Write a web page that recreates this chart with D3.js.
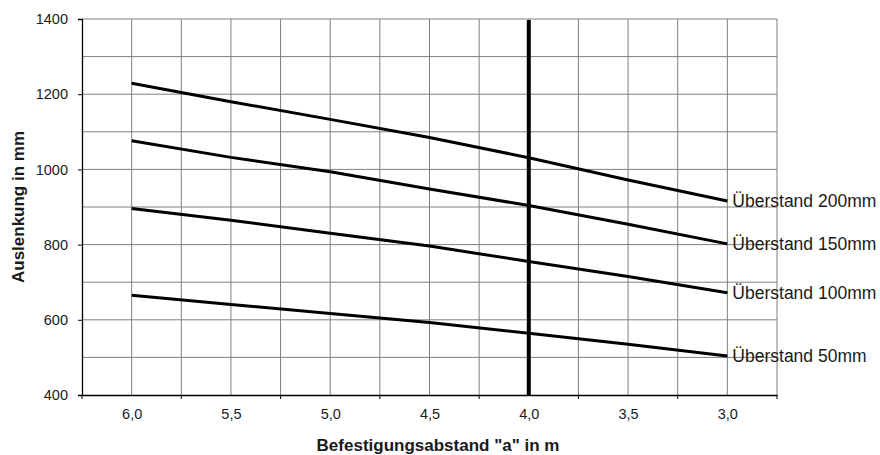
<!DOCTYPE html>
<html>
<head>
<meta charset="utf-8">
<script src="https://cdn.jsdelivr.net/npm/d3@7"></script>
<style>
  html, body { margin: 0; padding: 0; background: #fff; }
  svg { display: block; font-family: "Liberation Sans", Arial, sans-serif; }
</style>
</head>
<body>
<svg id="chart" width="880" height="455"></svg>
<script>
const categories = ["6,0", "5,5", "5,0", "4,5", "4,0", "3,5", "3,0"];
const seriesNames = ["Überstand 200mm", "Überstand 150mm", "Überstand 100mm", "Überstand 50mm"];
const s200 = [1229, 1180, 1133, 1085, 1031, 972, 916];
const s150 = [1076, 1032, 994, 948, 904, 854, 802];
const s100 = [896, 865, 830, 796, 755, 715, 672];
const s50  = [665, 641, 617, 593, 564, 535, 504];
const markerCategory = "4,0";
const yTicks = [400, 600, 800, 1000, 1200, 1400];
const yGrid = [500, 600, 700, 800, 900, 1000, 1100, 1200, 1300, 1400];
const yTitle = "Auslenkung in mm";
const xTitle = "Befestigungsabstand \"a\" in m";

const series = [s200, s150, s100, s50];

const svg = d3.select("#chart");
const m = { left: 82, right: 777, top: 19, bottom: 395 };

const x = d3.scalePoint().domain(categories).range([m.left, m.right]).padding(0.5);
const y = d3.scaleLinear().domain([400, 1400]).range([m.bottom, m.top]);
const step = x.step();

// vertical grid lines: category boundaries and centers
const vx = [];
categories.forEach(c => { vx.push(x(c) - step / 2); vx.push(x(c)); });
vx.push(m.right);
svg.append("g").selectAll("line").data(vx.slice(1)).join("line")
  .attr("x1", d => d).attr("x2", d => d)
  .attr("y1", m.top).attr("y2", m.bottom)
  .attr("stroke", "#808080").attr("stroke-width", 1);

// horizontal grid
svg.append("g").selectAll("line").data(yGrid).join("line")
  .attr("x1", m.left).attr("x2", m.right)
  .attr("y1", d => y(d)).attr("y2", d => y(d))
  .attr("stroke", "#808080").attr("stroke-width", 1);

// axes
const yAxis = d3.axisLeft(y).tickValues(yTicks).tickSize(4).tickFormat(d3.format("d"));
const gy = svg.append("g").attr("transform", `translate(${m.left},0)`).call(yAxis);
gy.select(".domain").attr("stroke", "#000").attr("stroke-width", 1.3);
gy.selectAll(".tick line").attr("stroke", "#000");
gy.selectAll(".tick text").attr("font-size", 14.5).attr("fill", "#1a1a1a")
  .attr("font-family", "Liberation Sans, Arial, sans-serif").attr("x", -14);

const gx = svg.append("g").attr("transform", `translate(0,${m.bottom})`)
  .call(d3.axisBottom(x).tickSize(0).tickPadding(14));
gx.select(".domain").attr("stroke", "#000").attr("stroke-width", 1.3);
gx.selectAll(".tick text").attr("font-size", 14.5).attr("fill", "#1a1a1a")
  .attr("font-family", "Liberation Sans, Arial, sans-serif");
// boundary tick marks
svg.append("g").selectAll("line").data(categories.map(c => x(c) - step / 2).concat([m.right])).join("line")
  .attr("x1", d => d).attr("x2", d => d)
  .attr("y1", m.bottom).attr("y2", m.bottom + 4)
  .attr("stroke", "#000").attr("stroke-width", 1);

// series lines
const line = d3.line().x((d, i) => x(categories[i])).y(d => y(d));
svg.append("g").selectAll("path").data(series).join("path")
  .attr("d", d => line(d))
  .attr("fill", "none").attr("stroke", "#000").attr("stroke-width", 3);

// marker vertical line
svg.append("line")
  .attr("x1", x(markerCategory)).attr("x2", x(markerCategory))
  .attr("y1", y(1400) + 1).attr("y2", y(400))
  .attr("stroke", "#000").attr("stroke-width", 4);

// series labels
svg.append("g").selectAll("text").data(series).join("text")
  .attr("x", x(categories[categories.length - 1]) + 5)
  .attr("y", d => y(d[d.length - 1]))
  .attr("dy", "0.35em")
  .attr("font-size", 17.5).attr("fill", "#1a1a1a")
  .text((d, i) => seriesNames[i]);

// titles
svg.append("text")
  .attr("x", 438).attr("y", 451)
  .attr("text-anchor", "middle").attr("font-weight", "bold").attr("font-size", 17)
  .attr("fill", "#1a1a1a").text(xTitle);
svg.append("text")
  .attr("transform", `translate(24,${(m.top + m.bottom) / 2}) rotate(-90)`)
  .attr("text-anchor", "middle").attr("font-weight", "bold").attr("font-size", 17)
  .attr("fill", "#1a1a1a").text(yTitle);
</script>
</body>
</html>
